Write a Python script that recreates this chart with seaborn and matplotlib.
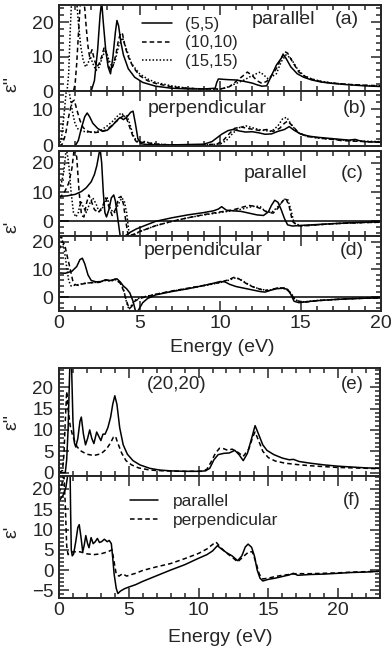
import matplotlib
matplotlib.use("Agg")
import matplotlib.pyplot as plt
import seaborn as sns
from matplotlib.ticker import MultipleLocator

sns.set_style("ticks")
plt.rcParams["font.family"] = ["Liberation Sans", "DejaVu Sans"]

# ---------------- data: top group (a)-(d) ----------------
# (a) eps'' parallel
a55_E = [0, 2.0, 2.2, 2.4, 2.55, 2.65, 2.75, 2.9, 3.05, 3.2, 3.35, 3.5, 3.6, 3.7, 3.85, 4.0, 4.3, 4.7, 5.2, 6, 7, 8, 9, 9.7, 9.8, 9.9, 10.5, 11, 11.5, 12, 12.3, 12.6, 12.9, 13.2, 13.5, 13.8, 13.95, 14.1, 14.4, 14.8, 15.2, 15.7, 16.3, 17, 18, 19, 20]
a55_v = [0, 0, 3, 12, 22, 26, 20, 12, 7, 5, 10, 17, 20.5, 19, 14, 10.5, 6.5, 4, 2.5, 1.4, 0.8, 0.6, 0.6, 0.8, 2.5, 3.5, 3.3, 3.2, 2.8, 2.3, 1.8, 1.4, 1.5, 4.5, 7.5, 9.5, 10.5, 9.5, 7, 5, 4, 3.2, 2.6, 2.2, 1.8, 1.5, 1.3]
a1010_E = [0, 0.9, 1.0, 1.1, 1.2, 1.3, 1.4, 1.5, 1.6, 1.7, 1.8, 1.9, 2.05, 2.2, 2.35, 2.5, 2.65, 2.8, 2.95, 3.1, 3.25, 3.4, 3.55, 3.7, 3.85, 3.95, 4.1, 4.3, 4.6, 5.0, 5.5, 6, 7, 8, 9, 10, 10.5, 10.8, 11.1, 11.4, 11.7, 12.0, 12.3, 12.6, 12.9, 13.2, 13.5, 13.8, 14.0, 14.2, 14.5, 14.9, 15.3, 15.8, 16.4, 17, 18, 19, 20]
a1010_v = [0, 0, 2, 8, 16, 24, 28, 27, 24, 18, 13, 10, 12, 9, 7, 8, 10, 12.5, 11, 7, 6, 8, 11, 15, 17, 16.5, 13, 10, 7, 4.5, 3, 2.2, 1.2, 0.8, 0.6, 0.6, 1.0, 2.0, 3.2, 4.3, 5.5, 4.5, 3.0, 2.2, 2.8, 4.5, 6.5, 9.5, 11.5, 11, 8.5, 5.5, 4.2, 3.3, 2.6, 2.3, 1.9, 1.7, 1.5]
a1515_E = [0, 0.5, 0.6, 0.7, 0.8, 0.95, 1.1, 1.2, 1.35, 1.5, 1.65, 1.8, 1.95, 2.1, 2.3, 2.5, 2.7, 2.9, 3.1, 3.3, 3.5, 3.7, 3.95, 4.2, 4.5, 5, 5.5, 6, 7, 8, 9, 10, 10.5, 11, 11.5, 12, 12.5, 13, 13.5, 13.8, 14.1, 14.4, 14.8, 15.2, 15.7, 16.3, 17, 18, 19, 20]
a1515_v = [0, 0, 5, 18, 28, 30, 26, 20, 13, 9, 7, 8, 10, 8, 6, 7, 10, 12, 9, 7, 9, 13, 15.5, 12, 8, 5, 3.5, 2.5, 1.5, 0.8, 0.6, 0.5, 1.2, 2.2, 3.2, 4.5, 5.5, 3.5, 5, 8.5, 10.5, 9.5, 6.5, 4.5, 3.5, 2.8, 2.3, 1.9, 1.6, 1.4]

# (b) eps'' perpendicular
b55_E = [0, 1.0, 1.2, 1.4, 1.6, 1.75, 1.9, 2.1, 2.4, 2.7, 3.0, 3.3, 3.6, 3.8, 4.0, 4.2, 4.45, 4.6, 4.75, 4.9, 5.1, 5.5, 6, 7, 8, 9, 9.5, 9.8, 10.1, 10.5, 10.8, 11.2, 11.6, 12, 12.4, 12.8, 13.2, 13.6, 14.0, 14.3, 14.6, 15, 15.5, 16, 16.5, 17, 17.5, 18, 18.4, 18.7, 19, 19.5, 20]
b55_v = [0, 0, 1.5, 5, 8, 9, 8, 6.2, 4.8, 4.0, 4.3, 5.5, 7, 7.8, 7.2, 7.8, 9.2, 9.5, 6, 2, 0.6, 0.4, 0.3, 0.3, 0.4, 0.5, 1.2, 2.2, 3.2, 4.2, 4.5, 4.1, 3.8, 3.9, 3.6, 3.2, 3.3, 4.0, 4.5, 5.3, 4.3, 3.3, 2.7, 2.4, 2.2, 2.0, 1.8, 1.6, 1.8, 1.4, 1.2, 1.1, 1.1]
b1010_E = [0, 0.2, 0.4, 0.6, 0.8, 0.95, 1.1, 1.3, 1.5, 1.8, 2.1, 2.5, 2.9, 3.2, 3.5, 3.8, 4.0, 4.2, 4.4, 4.6, 4.8, 5.0, 5.3, 5.6, 6, 7, 8, 9, 9.8, 10.2, 10.5, 10.9, 11.3, 11.7, 12.1, 12.5, 12.9, 13.3, 13.7, 14.0, 14.2, 14.5, 14.9, 15.4, 16, 16.5, 17, 17.5, 18, 18.5, 19, 19.5, 20]
b1010_v = [0, 0.5, 3, 8, 12, 12.5, 10, 7, 5, 4, 3.6, 3.8, 4.3, 5.3, 6.5, 7.5, 8.3, 7.5, 5, 2.5, 1.2, 0.8, 1.1, 0.8, 0.5, 0.3, 0.3, 0.3, 0.5, 1.5, 3, 4.8, 5.2, 4.8, 4.5, 4.2, 4.5, 4.0, 4.8, 6.2, 6.8, 5.5, 3.5, 2.6, 2.3, 2.0, 1.8, 1.5, 1.4, 1.3, 1.2, 1.1, 1.0]
b1515_E = [0, 0.15, 0.3, 0.45, 0.55, 0.7, 0.85, 1.0, 1.2, 1.5, 1.8, 2.2, 2.6, 3.0, 3.4, 3.7, 3.9, 4.05, 4.2, 4.4, 4.6, 4.8, 5.0, 5.3, 5.7, 6.2, 7, 8, 9, 10, 10.4, 10.8, 11.2, 11.6, 12, 12.4, 12.8, 13.2, 13.6, 13.9, 14.15, 14.4, 14.8, 15.3, 16, 17, 18, 19, 20]
b1515_v = [0, 2, 8, 15, 17, 13, 9, 6, 4.5, 4, 3.8, 3.8, 4.3, 5.5, 7, 8.5, 9, 8, 8.5, 6, 3, 1.5, 1, 1.2, 0.8, 0.5, 0.3, 0.3, 0.3, 0.5, 1.5, 3.5, 5, 5.5, 5, 4.5, 4.2, 4.0, 5.5, 7.5, 7.8, 6, 3.8, 2.8, 2.2, 1.8, 1.5, 1.3, 1.2]

# (c) eps' parallel
c55_E = [0, 0.5, 1.0, 1.4, 1.7, 2.0, 2.2, 2.35, 2.45, 2.55, 2.65, 2.75, 2.85, 2.95, 3.1, 3.25, 3.4, 3.5, 3.6, 3.7, 3.8, 3.9, 4.1, 4.4, 4.8, 5.3, 6, 7, 8, 9, 9.6, 9.9, 10.1, 10.4, 10.8, 11.3, 11.8, 12.3, 12.7, 13.0, 13.2, 13.4, 13.6, 13.8, 14.0, 14.2, 14.5, 15, 16, 17, 18, 19, 20]
c55_v = [8.5, 8.7, 9.2, 10.2, 11.5, 13.5, 16, 19, 22, 25, 20, 10, 3, 1.5, 4, 8, 9, 7, 3, -1, -5, -6, -5, -3.8, -2.6, -1.5, 0, 1.2, 2.2, 3.0, 3.6, 4.2, 5.0, 3.8, 3.6, 3.4, 2.8, 2.2, 2.0, 3.2, 5.5, 7.2, 6.5, 4, 1, -1.2, -1.6, -1.4, -1.1, -0.8, -0.5, -0.3, -0.2]
c1010_E = [0, 0.3, 0.6, 0.8, 0.95, 1.1, 1.25, 1.4, 1.55, 1.7, 1.85, 2.0, 2.2, 2.45, 2.7, 2.9, 3.1, 3.3, 3.5, 3.7, 3.85, 4.0, 4.15, 4.3, 4.6, 5.0, 5.5, 6, 7, 8, 9, 10, 10.5, 11, 11.5, 11.8, 12.1, 12.5, 12.9, 13.3, 13.6, 13.9, 14.1, 14.3, 14.5, 14.8, 15.3, 16, 17, 18, 19, 20]
c1010_v = [8, 9.5, 13, 18, 25, 22, 10, 2, 1.5, 6, 9, 7, 4, 3, 5, 8, 5, 2, 4, 8, 8.5, 6, 0, -5, -4.5, -3.5, -2.5, -1.5, 0, 1.2, 2.3, 3.2, 3.6, 4.2, 5.0, 5.4, 5.2, 4.4, 3.2, 2.8, 4.5, 7.0, 7.8, 5, 0, -1.5, -1.5, -1.2, -0.8, -0.6, -0.4, -0.3]
c1515_E = [0, 0.15, 0.3, 0.45, 0.6, 0.75, 0.9, 1.05, 1.2, 1.35, 1.5, 1.7, 1.9, 2.1, 2.3, 2.5, 2.75, 3.0, 3.2, 3.45, 3.7, 3.9, 4.05, 4.2, 4.35, 4.6, 5.0, 5.5, 6, 7, 8, 9, 10, 10.6, 11.2, 11.8, 12.2, 12.5, 12.8, 13.2, 13.6, 14.0, 14.2, 14.4, 14.6, 15, 15.5, 16, 17, 18, 19, 20]
c1515_v = [11, 13, 17, 25, 20, 10, 3, 1.5, 3, 7, 5, 3, 6, 8, 6, 3, 5, 8, 4, 3, 6, 8, 7, 3, -4, -5, -3.5, -2.5, -1.5, 0, 1.2, 2.2, 3.0, 3.5, 4.0, 4.8, 5.2, 5.0, 3.5, 3.0, 5.0, 7.5, 7.6, 4, -0.5, -1.5, -1.4, -1.2, -0.8, -0.6, -0.4, -0.3]

# (d) eps' perpendicular
d55_E = [0, 0.4, 0.8, 1.1, 1.3, 1.45, 1.6, 1.8, 2.0, 2.3, 2.6, 2.9, 3.2, 3.4, 3.6, 3.8, 4.0, 4.2, 4.4, 4.6, 4.75, 4.85, 5.0, 5.2, 5.5, 6, 7, 8, 9, 9.6, 10.0, 10.3, 10.6, 11.0, 11.5, 12.0, 12.5, 12.8, 13.1, 13.5, 13.9, 14.2, 14.4, 14.6, 14.9, 15.3, 16, 17, 18, 19, 20]
d55_v = [8.7, 8.6, 9.3, 11, 13.5, 14, 12, 8, 6, 5.5, 5.6, 6.2, 6.0, 6.3, 6.6, 5.5, 4.0, 3.0, 1.5, -1.5, -5, -5.5, -4, -2, -0.5, 0.8, 2.0, 3.0, 4.2, 5.0, 5.6, 5.5, 4.6, 3.8, 3.2, 2.6, 2.0, 1.8, 2.4, 3.0, 3.2, 2.8, 1.0, -1.5, -2.0, -1.7, -1.3, -0.9, -0.6, -0.4, -0.3]
d1010_E = [0, 0.2, 0.35, 0.5, 0.7, 0.85, 1.0, 1.2, 1.5, 2.0, 2.5, 2.9, 3.2, 3.5, 3.8, 4.0, 4.2, 4.35, 4.5, 4.7, 5.0, 5.5, 6, 7, 8, 9, 10, 10.5, 10.9, 11.2, 11.6, 12.0, 12.5, 13.0, 13.5, 14.0, 14.3, 14.6, 14.9, 15.3, 16, 17, 18, 19, 20]
d1010_v = [17, 20, 19, 15, 10, 6, 4.5, 4.2, 4.8, 5.2, 5.3, 6.2, 5.8, 6.5, 5, 2.5, -1.5, -4, -3.5, -1.5, -0.5, 0.3, 1, 2.2, 3.2, 4.2, 5.3, 6.2, 7.2, 6.5, 5.0, 3.8, 2.8, 2.3, 3.2, 3.3, 2.0, -0.5, -1.5, -1.8, -1.3, -0.9, -0.6, -0.4, -0.3]
d1515_E = [0, 0.15, 0.3, 0.45, 0.6, 0.75, 0.9, 1.2, 1.6, 2.0, 2.5, 2.9, 3.2, 3.5, 3.8, 4.0, 4.2, 4.35, 4.5, 4.7, 5.0, 5.5, 6, 7, 8, 9, 10, 10.5, 11.0, 11.3, 11.7, 12.1, 12.6, 13.1, 13.6, 14.1, 14.4, 14.7, 15.0, 15.4, 16, 17, 18, 19, 20]
d1515_v = [20, 22, 18, 12, 6, 4, 4.2, 4.5, 5, 5.2, 5.4, 6.0, 5.7, 6.3, 5.2, 3, -2, -4.5, -3, -1.2, -0.3, 0.4, 1, 2.1, 3.1, 4.1, 5.2, 6.0, 7.0, 6.2, 4.8, 3.6, 2.7, 2.5, 3.3, 3.0, 1.5, -1, -1.7, -1.6, -1.2, -0.9, -0.6, -0.4, -0.3]

# ---------------- data: bottom group (e)-(f), tube (20,20) ----------------
e_par_E = [0, 0.45, 0.55, 0.65, 0.75, 0.82, 0.9, 1.0, 1.1, 1.2, 1.35, 1.5, 1.6, 1.75, 1.9, 2.05, 2.2, 2.35, 2.5, 2.7, 2.85, 3.0, 3.15, 3.3, 3.5, 3.7, 3.85, 4.0, 4.15, 4.35, 4.6, 4.9, 5.3, 5.8, 6.5, 7.2, 8, 9, 10, 10.5, 10.8, 11.1, 11.4, 11.8, 12.2, 12.6, 12.9, 13.2, 13.5, 13.8, 14.05, 14.3, 14.6, 14.9, 15.4, 16.0, 16.5, 16.8, 17.2, 18, 19, 20, 21, 22, 23]
e_par_v = [0, 0, 3, 10, 22, 30, 25, 12, 7, 6, 8, 12, 13, 9, 6.5, 8, 10, 8, 6.8, 9.5, 8.5, 7.5, 9, 9, 10.5, 13, 16, 18, 16, 10.5, 6.5, 4.3, 2.8, 1.8, 1.0, 0.6, 0.4, 0.3, 0.3, 0.4, 1.0, 3.0, 4.2, 4.5, 4.6, 5.2, 4.2, 2.8, 4.5, 8, 11, 9, 6.5, 5.2, 4.2, 3.4, 3.0, 3.1, 2.6, 2.2, 1.8, 1.5, 1.3, 1.1, 1.0]
e_perp_E = [0, 0.25, 0.35, 0.45, 0.55, 0.65, 0.8, 0.95, 1.1, 1.3, 1.6, 2.0, 2.5, 3.0, 3.4, 3.7, 3.9, 4.05, 4.2, 4.5, 4.8, 5.2, 5.7, 6.5, 7.5, 9, 10.3, 10.6, 10.9, 11.2, 11.5, 11.8, 12.1, 12.4, 12.8, 13.2, 13.6, 13.9, 14.05, 14.3, 14.6, 15, 15.5, 16.2, 17, 18, 19, 20, 21, 22, 23]
e_perp_v = [0, 0.5, 4, 12, 19, 15, 11, 9, 7.5, 6, 5, 4.3, 4.0, 4.4, 5.5, 7, 8.3, 8.5, 7, 4.5, 2.8, 1.8, 1.1, 0.6, 0.4, 0.3, 0.3, 0.8, 2.5, 4.5, 5.7, 5.6, 5.2, 5.5, 4.8, 3.8, 5.5, 8.5, 9.5, 7.5, 5, 3.5, 2.7, 2.2, 1.9, 1.6, 1.4, 1.2, 1.1, 1.0, 0.9]

f_par_E = [0, 0.3, 0.5, 0.65, 0.78, 0.83, 0.88, 0.95, 1.05, 1.2, 1.35, 1.45, 1.58, 1.7, 1.8, 1.92, 2.05, 2.15, 2.3, 2.45, 2.6, 2.75, 2.9, 3.05, 3.25, 3.45, 3.6, 3.75, 3.85, 3.95, 4.1, 4.22, 4.4, 4.7, 5.0, 5.5, 6, 7, 8, 9, 10, 10.6, 11.0, 11.35, 11.6, 12.0, 12.4, 12.8, 13.1, 13.35, 13.55, 13.8, 14.0, 14.2, 14.4, 14.6, 15.0, 15.5, 16.0, 16.5, 16.8, 17.1, 18, 19, 20, 21, 22, 23]
f_par_v = [17, 18.5, 20.5, 24, 28, 15, 5, 3.5, 4, 7, 10.5, 11.2, 8, 4.5, 6, 8.5, 6.5, 5.5, 8, 6.5, 7, 7.8, 6.8, 7, 7.6, 7, 7.3, 6.5, 3, -1, -4.5, -5.8, -5.2, -4.6, -4.2, -3.6, -2.8, -1.4, 0, 1.3, 2.9, 3.8, 4.7, 6.0, 5.3, 4.3, 3.5, 2.3, 3.5, 5.7, 6.4, 5.6, 3.5, 0, -2.0, -2.7, -2.3, -2.0, -1.6, -1.2, -0.8, -1.3, -1.1, -1.0, -0.8, -0.6, -0.5, -0.3]
f_perp_E = [0, 0.2, 0.35, 0.45, 0.55, 0.65, 0.8, 1.0, 1.5, 2.0, 2.5, 3.0, 3.5, 3.8, 3.95, 4.1, 4.3, 4.55, 4.85, 5.1, 5.5, 6, 7, 8, 9, 10, 10.6, 11.0, 11.25, 11.6, 12.0, 12.4, 12.8, 13.2, 13.6, 13.85, 14.1, 14.35, 14.6, 15.0, 15.5, 16.0, 17.0, 18, 19, 20, 21, 22, 23]
f_perp_v = [19, 21, 24, 16, 6, 3.8, 4.2, 4.5, 4.5, 4.0, 3.8, 4.0, 4.5, 5.0, 2, -1.0, -1.5, -0.9, -1.5, -1.2, -0.8, -0.1, 0.8, 1.6, 2.8, 4.1, 5.2, 6.3, 6.9, 5.5, 4.2, 3.2, 2.0, 3.3, 4.5, 4.5, 2, -1, -2.2, -2.0, -1.6, -1.3, -0.9, -0.9, -0.8, -0.7, -0.5, -0.4, -0.3]

legend_top = ["(5,5)", "(10,10)", "(15,15)"]
legend_bottom = ["parallel", "perpendicular"]

# ---------------- styling ----------------
W, H = 392, 652
LW = 1.1
SOLID = "-"
DASH = (0, (3, 2))
DOT = (0, (1, 1.3))
FS = 14


def frac_axes(x0, y0, x1, y1):
    return [x0 / W, 1 - y1 / H, (x1 - x0) / W, (y1 - y0) / H]


def curve(ax, E, v, ls):
    sns.lineplot(x=E, y=v, ax=ax, color="black", linestyle=ls, linewidth=LW,
                 estimator=None, sort=False, legend=False)


def style(ax, xlim, ylim, ymaj, ymin, xlabels, lsize=FS):
    ax.set_xlim(*xlim)
    ax.set_ylim(*ylim)
    ax.xaxis.set_major_locator(MultipleLocator(5))
    ax.xaxis.set_minor_locator(MultipleLocator(1))
    ax.yaxis.set_major_locator(MultipleLocator(ymaj))
    ax.yaxis.set_minor_locator(MultipleLocator(ymin))
    ax.tick_params(which="both", direction="in", top=True, right=True,
                   labelsize=lsize, width=1.1, pad=3)
    ax.tick_params(which="major", length=7)
    ax.tick_params(which="minor", length=3.5)
    ax.tick_params(axis="y", pad=4)
    if not xlabels:
        ax.tick_params(axis="x", labelbottom=False)
    for s in ax.spines.values():
        s.set_linewidth(1.4)
    ax.set_xlabel("")
    ax.set_ylabel("")


fig = plt.figure(figsize=(W / 100, H / 100), dpi=100)

axa = fig.add_axes(frac_axes(59, 5, 381, 91))
axb = fig.add_axes(frac_axes(59, 91, 381, 146))
axc = fig.add_axes(frac_axes(59, 151, 381, 236))
axd = fig.add_axes(frac_axes(59, 236, 381, 311))
axe = fig.add_axes(frac_axes(59, 368, 380, 476))
axf = fig.add_axes(frac_axes(59, 476, 380, 598))

for ax, (E1, v1), (E2, v2), (E3, v3) in [
    (axa, (a55_E, a55_v), (a1010_E, a1010_v), (a1515_E, a1515_v)),
    (axb, (b55_E, b55_v), (b1010_E, b1010_v), (b1515_E, b1515_v)),
    (axc, (c55_E, c55_v), (c1010_E, c1010_v), (c1515_E, c1515_v)),
    (axd, (d55_E, d55_v), (d1010_E, d1010_v), (d1515_E, d1515_v)),
]:
    curve(ax, E1, v1, SOLID)
    curve(ax, E2, v2, DASH)
    curve(ax, E3, v3, DOT)

curve(axe, e_par_E, e_par_v, SOLID)
curve(axe, e_perp_E, e_perp_v, DASH)
curve(axf, f_par_E, f_par_v, SOLID)
curve(axf, f_perp_E, f_perp_v, DASH)

for ax in (axc, axd):
    ax.axhline(0, color="black", linewidth=LW)

style(axa, (0, 20), (0, 25), 10, 2, False)
style(axb, (0, 20), (0, 15), 10, 2, False)
style(axc, (0, 20), (-5, 24), 10, 2, False)
style(axd, (0, 20), (-5, 22), 10, 2, True)
style(axe, (0, 23), (-0.8, 24.5), 5, 1, False, lsize=13.5)
style(axf, (0, 23), (-6.9, 23.2), 5, 1, True, lsize=13.5)
axf.tick_params(axis="x", labelsize=FS)

# legends
la = axa.get_lines()[:3]
axa.legend(la, legend_top, loc="center left", bbox_to_anchor=(0.258, 0.56),
           frameon=False, fontsize=12, borderpad=0, borderaxespad=0,
           handlelength=1.8, handletextpad=0.75, labelspacing=0.2)
lf = axf.get_lines()[:2]
axf.legend(lf, legend_bottom, loc="center left", bbox_to_anchor=(0.222, 0.713),
           frameon=False, fontsize=12.5, borderpad=0, borderaxespad=0,
           handlelength=1.6, handletextpad=0.85, labelspacing=0.2)

# panel texts
axa.text(0.696, 0.826, "parallel", transform=axa.transAxes, fontsize=FS, ha="center", va="center")
axa.text(0.894, 0.826, "(a)", transform=axa.transAxes, fontsize=FS, ha="center", va="center")
axb.text(0.46, 0.69, "perpendicular", transform=axb.transAxes, fontsize=FS, ha="center", va="center")
axb.text(0.919, 0.69, "(b)", transform=axb.transAxes, fontsize=FS, ha="center", va="center")
axc.text(0.671, 0.74, "parallel", transform=axc.transAxes, fontsize=FS, ha="center", va="center")
axc.text(0.910, 0.74, "(c)", transform=axc.transAxes, fontsize=FS, ha="center", va="center")
axd.text(0.447, 0.81, "perpendicular", transform=axd.transAxes, fontsize=FS, ha="center", va="center")
axd.text(0.91, 0.81, "(d)", transform=axd.transAxes, fontsize=FS, ha="center", va="center")
axe.text(0.368, 0.843, "(20,20)", transform=axe.transAxes, fontsize=13.5, ha="center", va="center")
axe.text(0.913, 0.843, "(e)", transform=axe.transAxes, fontsize=13.5, ha="center", va="center")
axf.text(0.913, 0.803, "(f)", transform=axf.transAxes, fontsize=13.5, ha="center", va="center")

# axis labels
fig.text(12 / W, 1 - 84 / H, "ε''", rotation=90, fontsize=FS, ha="center", va="center")
fig.text(12 / W, 1 - 227 / H, "ε'", rotation=90, fontsize=FS, ha="center", va="center")
fig.text(12 / W, 1 - 422 / H, "ε''", rotation=90, fontsize=FS, ha="center", va="center")
fig.text(12 / W, 1 - 532 / H, "ε'", rotation=90, fontsize=FS, ha="center", va="center")
fig.text(222 / W, 1 - 347 / H, "Energy (eV)", fontsize=FS, ha="center", va="center")
fig.text(220 / W, 1 - 637 / H, "Energy (eV)", fontsize=FS, ha="center", va="center")

fig.savefig("out.png", dpi=100)
